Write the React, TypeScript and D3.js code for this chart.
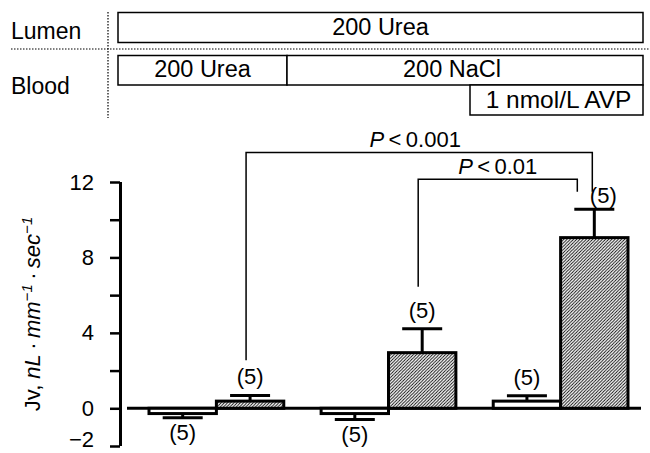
import { useEffect, useRef } from "react";
import * as d3 from "d3";

// conditions (three groups), two bars each
const groups = ["urea", "nacl", "avp"];
const series = ["open", "hatched"];

// Jv means and SE
const openMeans = [-0.28, -0.28, 0.38];
const openErrors = [0.22, 0.32, 0.28];
const hatchedMeans = [0.38, 2.95, 9.05];
const hatchedErrors = [0.3, 1.27, 1.5];
const openN = [5, 5, 5];
const hatchedN = [5, 5, 5];

const yTicks = [-2, 0, 2, 4, 6, 8, 10, 12];
const yTickLabels = ["\u22122", "0", "", "4", "", "8", "", "12"];

// significance brackets (between hatched bars)
const bracketLabels = ["0.001", "0.01"];
const bracketFrom = [0, 1];
const bracketTo = [2, 2];
const bracketLevels = [13.57, 12.14];
const bracketLeftEnds = [2.55, 6.45];
const bracketRightEnds = [11.48, 11.48];

// bath conditions panel
const lumenRow = ["200 Urea"];
const bloodRow = ["200 Urea", "200 NaCl"];
const avpLabel = "1 nmol/L AVP";

const FONT = "'Liberation Sans', Arial, Helvetica, sans-serif";

const App = () => {
  const svgRef = useRef<SVGSVGElement | null>(null);

  useEffect(() => {
    if (!svgRef.current) return;
    document.body.style.margin = "0";

    const svg = d3.select(svgRef.current);
    svg.selectAll("*").remove();
    svg.style("font-family", FONT);

    // hatch pattern
    const defs = svg.append("defs");
    const pat = defs
      .append("pattern")
      .attr("id", "hatch")
      .attr("patternUnits", "userSpaceOnUse")
      .attr("width", 3.2)
      .attr("height", 3.2);
    pat.append("rect").attr("width", 3.2).attr("height", 3.2).attr("fill", "#fff");
    pat
      .append("path")
      .attr("d", "M-0.8,0.8 L0.8,-0.8 M0,3.2 L3.2,0 M2.4,4 L4,2.4")
      .attr("stroke", "#000")
      .attr("stroke-width", 0.9);

    // ---- top panel: bath conditions ----
    const top = svg.append("g");
    const boxL = 118;
    const boxR = 643;
    const split = 287;
    const avpL = 470;

    top
      .append("text")
      .attr("x", 11)
      .attr("y", 39)
      .attr("font-size", 23)
      .text("Lumen");
    top
      .append("text")
      .attr("x", 11)
      .attr("y", 94)
      .attr("font-size", 23)
      .text("Blood");

    // dotted separators
    top
      .append("line")
      .attr("x1", 11)
      .attr("x2", 650)
      .attr("y1", 49)
      .attr("y2", 49)
      .attr("stroke", "#000")
      .attr("stroke-width", 1.2)
      .attr("stroke-dasharray", "1.5,1.5");
    top
      .append("line")
      .attr("x1", 108)
      .attr("x2", 108)
      .attr("y1", 12)
      .attr("y2", 118)
      .attr("stroke", "#000")
      .attr("stroke-width", 1.2)
      .attr("stroke-dasharray", "1.5,1.5");

    const box = (x1: number, x2: number, y1: number, y2: number, label: string, tx: number, ty: number, fs: number) => {
      top
        .append("rect")
        .attr("x", x1)
        .attr("y", y1)
        .attr("width", x2 - x1)
        .attr("height", y2 - y1)
        .attr("fill", "#fff")
        .attr("stroke", "#000")
        .attr("stroke-width", 1.5);
      top
        .append("text")
        .attr("x", tx)
        .attr("y", ty)
        .attr("text-anchor", "middle")
        .attr("font-size", fs)
        .text(label);
    };
    box(boxL, boxR, 12.5, 42.5, lumenRow[0], (boxL + boxR) / 2, 35, 23.5);
    box(boxL, split, 55.5, 85, bloodRow[0], (boxL + split) / 2, 77, 23.5);
    box(split, boxR, 55.5, 85, bloodRow[1], 452, 77, 23.5);
    box(avpL, boxR, 85, 115, avpLabel, (avpL + boxR) / 2 + 2, 108, 24.5);

    // ---- bar chart ----
    const x0 = d3.scaleBand<string>().domain(groups).range([149, 628]).paddingInner(0.217).paddingOuter(0);
    const x1 = d3.scaleBand<string>().domain(series).range([0, x0.bandwidth()]);
    const y = d3.scaleLinear().domain([-2, 12]).range([446, 182]);

    const chart = svg.append("g");

    // y axis
    const axis = chart
      .append("g")
      .attr("transform", "translate(120,0)")
      .call(
        d3
          .axisLeft(y)
          .tickValues(yTicks)
          .tickSize(10)
          .tickSizeOuter(0)
          .tickPadding(16)
          .tickFormat((_, i) => yTickLabels[i])
      );
    axis.select(".domain").attr("stroke-width", 3).attr("d", `M0.5,${y(-2)}V${y(12)}`);
    axis.selectAll(".tick line").attr("stroke-width", 2.5);
    axis
      .selectAll(".tick text")
      .attr("font-size", 22)
      .attr("font-family", FONT)
      .attr("fill", "#000");
    // keep the bottom label inside the frame
    axis
      .selectAll<SVGTextElement, number>(".tick text")
      .filter((d) => d === -2)
      .attr("dy", "0em");

    // y axis title
    const title = chart
      .append("text")
      .attr("transform", `translate(40,${(y(-2) + y(12)) / 2}) rotate(-90)`)
      .attr("text-anchor", "middle")
      .attr("font-size", 22);
    title.append("tspan").text("Jv, ");
    title.append("tspan").attr("font-style", "italic").text("nL");
    title.append("tspan").text("\u2009\u00b7\u2009");
    title.append("tspan").attr("font-style", "italic").text("mm");
    title.append("tspan").attr("font-style", "italic").attr("font-size", 15).attr("dy", -8).text("\u22121");
    title.append("tspan").attr("dy", 8).text("\u2009\u00b7\u2009");
    title.append("tspan").attr("font-style", "italic").text("sec");
    title.append("tspan").attr("font-style", "italic").attr("font-size", 15).attr("dy", -8).text("\u22121");

    // zero line
    chart
      .append("line")
      .attr("x1", 127)
      .attr("x2", 641)
      .attr("y1", y(0))
      .attr("y2", y(0))
      .attr("stroke", "#000")
      .attr("stroke-width", 3);

    const bars = groups.flatMap((g, i) => [
      { g, s: series[0], i, v: openMeans[i], e: openErrors[i], n: openN[i] },
      { g, s: series[1], i, v: hatchedMeans[i], e: hatchedErrors[i], n: hatchedN[i] },
    ]);

    const bx = (d: { g: string; s: string }) => (x0(d.g) || 0) + (x1(d.s) || 0);
    const bw = x1.bandwidth();
    const capW = 40;

    bars.forEach((d) => {
      const cx = bx(d) + bw / 2;
      const yv = y(d.v);
      const ye = y(d.v + (d.v >= 0 ? d.e : -d.e));

      // error bar
      chart
        .append("line")
        .attr("x1", cx)
        .attr("x2", cx)
        .attr("y1", yv)
        .attr("y2", ye)
        .attr("stroke", "#000")
        .attr("stroke-width", 3);
      chart
        .append("line")
        .attr("x1", cx - capW / 2)
        .attr("x2", cx + capW / 2)
        .attr("y1", ye)
        .attr("y2", ye)
        .attr("stroke", "#000")
        .attr("stroke-width", 3);

      chart
        .append("rect")
        .attr("x", bx(d))
        .attr("y", Math.min(yv, y(0)))
        .attr("width", bw)
        .attr("height", Math.abs(yv - y(0)))
        .attr("fill", d.s === "hatched" ? "url(#hatch)" : "#fff")
        .attr("stroke", "#000")
        .attr("stroke-width", 3);

      // n label
      const last = d.s === "hatched" && d.i === groups.length - 1;
      chart
        .append("text")
        .attr("x", cx + (last ? 9 : 0))
        .attr("y", d.v >= 0 ? ye - (last ? 6 : 11) : ye + 22)
        .attr("text-anchor", "middle")
        .attr("font-size", 22)
        .text(`(${d.n})`);
    });

    // significance brackets
    bracketLabels.forEach((lab, k) => {
      const left = bx({ g: groups[bracketFrom[k]], s: "hatched" }) + bw / 2 - 4;
      const right = bx({ g: groups[bracketTo[k]], s: "hatched" }) + bw / 2 - (k === 0 ? 2 : 17);
      const yl = y(bracketLevels[k]);
      chart
        .append("path")
        .attr(
          "d",
          `M${left},${y(bracketLeftEnds[k])}V${yl}H${right}V${y(bracketRightEnds[k])}`
        )
        .attr("fill", "none")
        .attr("stroke", "#000")
        .attr("stroke-width", 1.5);
      const t = chart
        .append("text")
        .attr("x", (left + right) / 2 - (k === 0 ? 4 : 0))
        .attr("y", yl - 5)
        .attr("text-anchor", "middle")
        .attr("font-size", 22);
      t.append("tspan").attr("font-style", "italic").text("P");
      t.append("tspan").text(`\u2009<\u2009${lab}`);
    });
  }, []);

  return (
    <div style={{ position: "absolute", left: 0, top: 0, width: 650, height: 453 }}>
      <svg ref={svgRef} width={650} height={453} style={{ display: "block", background: "#fff" }}></svg>
    </div>
  );
};

export default App;
